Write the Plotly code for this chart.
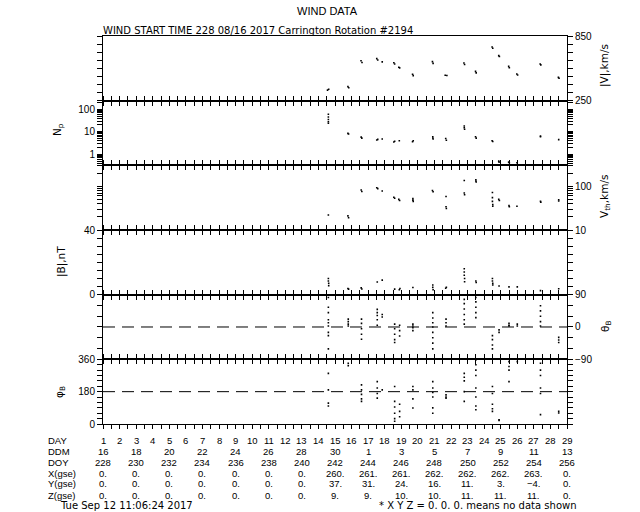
import plotly.graph_objects as go
from plotly.subplots import make_subplots

# ---------------- data ----------------
# x positions are day-of-year (DOY), axis spans DOY 228..256
v_doy = [241.55, 241.62, 242.78, 242.83, 243.57, 243.63, 244.52, 244.58, 244.85, 245.55, 245.6,
         245.85, 245.9, 246.68, 246.72, 247.88, 247.92, 248.65, 248.75, 249.78, 249.82, 250.48,
         250.52, 251.48, 251.52, 251.88, 251.92, 252.48, 252.52, 252.97, 253.02, 254.38, 254.42,
         255.48, 255.52]
v_kms = [348, 356, 380, 370, 620, 604, 640, 628, 610, 602, 590,
         560, 554, 495, 482, 612, 596, 486, 484, 600, 586, 522,
         508, 748, 736, 668, 660, 568, 556, 498, 488, 590, 582,
         466, 458]

np_doy = [241.6, 241.6, 241.6, 241.6, 241.6, 242.78, 242.82, 243.58, 243.62, 244.52, 244.58,
          244.85, 245.55, 245.6, 245.88, 246.68, 246.72, 247.9, 247.9, 247.92, 248.68, 248.72,
          249.8, 249.8, 249.82, 250.48, 250.52, 251.48, 251.52, 251.88, 251.9, 252.48, 252.52,
          252.98, 254.4, 254.4, 255.5]
np_val = [60, 45, 35, 28, 24, 8.5, 8.0, 5.8, 5.2, 4.3, 4.6,
          4.8, 3.5, 3.8, 4.0, 3.6, 4.0, 6.0, 5.3, 4.8, 5.0, 4.2,
          18, 15, 13, 6.0, 5.2, 4.0, 3.7, 0.5, 0.45, 0.45, 0.42,
          0.42, 6.5, 6.0, 4.5]

vth_doy = [241.6, 242.78, 242.82, 243.58, 243.62, 244.52, 244.58, 244.85, 245.55, 245.6, 245.85,
           245.9, 246.7, 246.7, 246.72, 247.88, 247.92, 248.7, 248.7, 248.72, 249.8, 249.8,
           249.82, 250.5, 250.5, 250.52, 251.5, 251.5, 251.5, 251.52, 251.52, 251.88, 251.92,
           252.5, 252.52, 252.98, 254.4, 254.42, 255.5, 255.5]
vth_val = [22, 21, 19, 82, 76, 92, 88, 78, 56, 53, 50,
           47, 52, 48, 45, 80, 75, 58, 34, 31, 135, 70,
           64, 140, 132, 125, 72, 55, 45, 38, 35, 50, 47,
           36, 34, 35, 45, 43, 49, 46]

b_doy = [241.6, 241.6, 241.62, 241.62, 242.78, 242.82, 243.58, 243.62, 244.55, 244.85, 245.6,
         245.88, 245.92, 246.7, 247.9, 247.9, 247.92, 248.68, 248.72, 249.8, 249.8, 249.8,
         249.82, 249.82, 250.5, 250.52, 251.5, 251.5, 251.52, 251.52, 251.9, 252.5, 253.0,
         254.4, 255.5]
b_nt = [10, 8.5, 7.0, 5.5, 3.8, 3.4, 4.2, 3.5, 7.8, 9.0, 3.4,
        3.0, 3.8, 4.4, 6.0, 4.5, 3.0, 4.0, 4.6, 16, 14, 12,
        10, 8, 8.5, 7.5, 10, 8.5, 7.0, 6.0, 5.4, 4.8, 4.8,
        2.5, 3.7]

theta_doy = [241.6] * 9 + [242.8] * 4 + [243.6] * 5 + [244.55] * 5 + [244.85] * 2 + \
            [245.6] * 5 + [245.9] * 3 + [246.7] * 4 + [247.9] * 8 + [248.7] * 3 + \
            [249.8] * 6 + [250.5] * 5 + [251.5] * 4 + [251.9] * 2 + [252.5] * 3 + \
            [253.0] * 2 + [254.4] * 5 + [255.5] * 3
theta_deg = [82, 55, 40, 20, 12, 3, -15, -24, -61,
             22, 15, 8, 3,
             22, 10, -5, -20, -34,
             49, 40, 32, 20, 5,
             35, 28,
             8, -5, -20, -35, -43,
             5, -10, -25,
             8, 3, -2, -10,
             40, 25, 12, 0, -15, -30, -45, -61,
             22, 12, 3,
             77, 65, 50, 35, 20, 8,
             82, 70, 55, 40, 26,
             -24, -35, -50, -61,
             -8, -15,
             10, 5, 3,
             8, 3,
             59, 45, 30, 15, 3,
             -29, -36, -43]

phi_doy = [241.6] * 4 + [242.8] * 2 + [243.6] * 5 + [244.55] * 4 + [244.85] * 1 + \
          [245.6] * 6 + [245.9] * 3 + [246.7] * 4 + [247.9] * 6 + [248.7] * 3 + \
          [249.8] * 5 + [250.5] * 8 + [251.5] * 5 + [251.9] * 2 + [252.5] * 4 + \
          [253.0] * 1 + [254.4] * 6 + [255.5] * 2
phi_deg = [282, 190, 116, 100,
           338, 325,
           218, 190, 165, 140, 126,
           236, 200, 170, 144,
           190,
           209, 126, 95, 60, 30, 15,
           110, 70, 40,
           209, 190, 140, 89,
           236, 200, 175, 150, 90, 60,
           162, 150, 144,
           282, 260, 240, 180, 126,
           356, 330, 300, 270, 200, 150, 100, 79,
           209, 170, 110, 85, 70,
           20, 24,
           347, 320, 300, 236,
           347,
           338, 300, 270, 200, 170, 52,
           61, 70]

# tick labels / table rows
day_ticks = list(range(228, 257))
day_labels = [str(i) for i in range(1, 30)]
row_doy = [228, 230, 232, 234, 236, 238, 240, 242, 244, 246, 248, 250, 252, 254, 256]
ddm_labels = ["16", "18", "20", "22", "24", "26", "28", "30", "1", "3", "5", "7", "9", "11", "13"]
doy_labels = [str(d) for d in row_doy]
x_gse = ["0.", "0.", "0.", "0.", "0.", "0.", "0.", "260.", "261.", "261.", "262.", "262.", "262.", "263.", "0."]
y_gse = ["0.", "0.", "0.", "0.", "0.", "0.", "0.", "37.", "31.", "24.", "16.", "11.", "3.", "\u22124.", "0."]
z_gse = ["0.", "0.", "0.", "0.", "0.", "0.", "0.", "9.", "9.", "10.", "10.", "11.", "11.", "11.", "0."]

# labelled (major) ticks and unlabelled (minor) ticks for each panel
v_tickvals, v_ticktext = [250, 850], ["250", "850"]
v_minor = [325, 400, 475, 550, 625, 700, 775]
np_tickvals, np_ticktext = [1, 10, 100], ["1", "10", "100"]
np_minor = [0.4, 0.5, 0.6, 0.7, 0.8, 0.9, 2, 3, 4, 5, 6, 7, 8, 9, 20, 30, 40, 50, 60, 70, 80, 90, 200]
vth_tickvals, vth_ticktext = [10, 100], ["10", "100"]
vth_minor = [20, 30, 40, 50, 60, 70, 80, 90, 200, 300]
b_tickvals, b_ticktext = [0, 40], ["0", "40"]
b_minor = [5, 10, 15, 20, 25, 30, 35]
th_tickvals, th_ticktext = [-90, 0, 90], ["\u221290", "0", "90"]
th_minor = [-60, -30, 30, 60]
phi_tickvals, phi_ticktext = [0, 180, 360], ["0", "180", "360"]
phi_minor = [30, 60, 90, 120, 150, 210, 240, 270, 300, 330]

# ---------------- figure ----------------
FONT = "Liberation Sans"
WIDE = "DejaVu Sans"
FS = 10
fig = make_subplots(rows=6, cols=1, shared_xaxes=True, vertical_spacing=0)

mk = dict(color="black", size=1.6, symbol="square", line=dict(width=0))
series = [(v_doy, v_kms), (np_doy, np_val), (vth_doy, vth_val),
          (b_doy, b_nt), (theta_doy, theta_deg), (phi_doy, phi_deg)]
for i, (xs, ys) in enumerate(series):
    fig.add_trace(go.Scatter(x=xs, y=ys, mode="markers", marker=mk, showlegend=False,
                             hoverinfo="skip"), row=i + 1, col=1)

for i in range(1, 7):
    fig.update_xaxes(range=[228, 256], tick0=228, dtick=0.5, ticks="outside", ticklen=4,
                     tickcolor="black", showline=True, linecolor="black", linewidth=1,
                     mirror=("ticks" if i > 1 else True), showticklabels=False, showgrid=False,
                     zeroline=False, automargin=False, row=i, col=1)

yaxis_specs = [
    dict(range=[250, 850], side="right", tickvals=v_tickvals, ticktext=v_ticktext, mv=v_minor),
    dict(type="log", range=[-0.49, 2.38], side="left", tickvals=np_tickvals, ticktext=np_ticktext,
         mv=np_minor),
    dict(type="log", range=[1, 2.4771], side="right", tickvals=vth_tickvals, ticktext=vth_ticktext,
         mv=vth_minor),
    dict(range=[0, 40], side="left", tickvals=b_tickvals, ticktext=b_ticktext, mv=b_minor),
    dict(range=[-90, 90], side="right", tickvals=th_tickvals, ticktext=th_ticktext, mv=th_minor),
    dict(range=[0, 360], side="left", tickvals=phi_tickvals, ticktext=phi_ticktext, mv=phi_minor),
]
for i, spec in enumerate(yaxis_specs):
    mv = spec.pop("mv")
    fig.update_yaxes(ticks="outside", ticklen=5, tickcolor="black", showline=True,
                     linecolor="black", linewidth=1, mirror="ticks", showgrid=False,
                     zeroline=False, tickmode="array", automargin=False,
                     minor=dict(tickmode="array", tickvals=mv, ticks="outside", ticklen=5,
                                tickcolor="black", showgrid=False),
                     tickfont=dict(size=FS, color="black", family=FONT),
                     row=i + 1, col=1, **spec)

# dashed reference lines
fig.add_shape(type="line", xref="x5", yref="y5", x0=228, x1=256, y0=0, y1=0,
              line=dict(color="black", width=1, dash="12px,7px"))
fig.add_shape(type="line", xref="x6", yref="y6", x0=228, x1=256, y0=180, y1=180,
              line=dict(color="black", width=1, dash="12px,7px"))

ann = []
tf = dict(family=FONT, size=9.5, color="black")
wf = dict(family=WIDE, size=10, color="black")
PW, PH = 464.0, 388.0


def px_x(px):
    return (px - 103) / PW


def px_y(py):
    return (424 - py) / PH


def note(text, x, y, xref="paper", xanchor="center", font=None, angle=0):
    return dict(text=text, x=x, y=y, xref=xref, yref="paper", xanchor=xanchor,
                yanchor="middle", showarrow=False, font=font or tf, borderpad=0,
                textangle=angle)


# titles
ann.append(note("WIND DATA", px_x(327), px_y(11), font=dict(family=FONT, size=11, color="black")))
ann.append(note("WIND START TIME 228 08/16 2017 Carrington Rotation #2194", px_x(102), px_y(30),
                xanchor="left", font=wf))
# axis titles
ax_titles = [("|V|,km/s", 605, 66), ("N<sub>p</sub>", 58, 130), ("V<sub>th</sub>,km/s", 605, 197),
             ("|B|,nT", 61, 262), ("\u03b8<sub>B</sub>", 606, 327), ("\u03c6<sub>B</sub>", 60, 392)]
for t, px, py in ax_titles:
    ann.append(note(t, px_x(px), px_y(py), angle=-90,
                    font=dict(family=WIDE, size=10.5, color="black")))

# bottom table
rows = [("DAY", 440, day_ticks, day_labels),
        ("DDM", 451, row_doy, ddm_labels),
        ("DOY", 462, row_doy, doy_labels),
        ("X(gse)", 473, row_doy, x_gse),
        ("Y(gse)", 484, row_doy, y_gse),
        ("Z(gse)", 495, row_doy, z_gse)]
for name, py, xs, labels in rows:
    ann.append(note(name, px_x(47), px_y(py), xanchor="left"))
    for xv, lab in zip(xs, labels):
        ann.append(note(lab, xv, px_y(py), xref="x6"))
ann.append(note("Tue Sep 12 11:06:24 2017", px_x(59), px_y(506), xanchor="left",
                font=dict(family=WIDE, size=10, color="black")))
ann.append(note("* X Y Z = 0. 0. 0. means no data shown", px_x(578), px_y(506), xanchor="right",
                font=dict(family=WIDE, size=10, color="black")))

fig.update_layout(width=640, height=512, margin=dict(l=103, r=73, t=36, b=88, autoexpand=False),
                  paper_bgcolor="white", plot_bgcolor="white", annotations=ann,
                  font=dict(family=FONT, size=FS, color="black"))

fig.write_html("out.html", config={"displayModeBar": False},
               post_script="document.body.style.margin='0px';")
